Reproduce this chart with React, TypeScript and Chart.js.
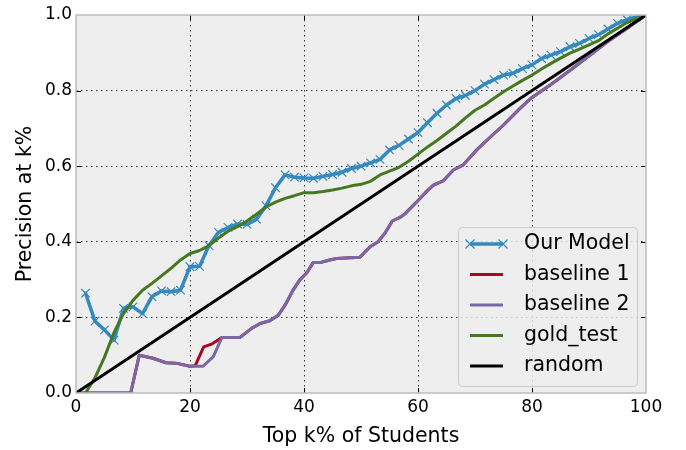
import React, { useEffect, useRef } from "react";
import { Chart, registerables } from "chart.js";

Chart.register(...registerables);

// ---------- data ----------
const kSteps = [
  1.67, 3.33, 5, 6.67, 8.33, 10, 11.67, 13.33, 15, 16.67,
  18.33, 20, 21.67, 23.33, 25, 26.67, 28.33, 30, 31.67, 33.33,
  35, 36.67, 38.33, 40, 41.67, 43.33, 45, 46.67, 48.33, 50,
  51.67, 53.33, 55, 56.67, 58.33, 60, 61.67, 63.33, 65, 66.67,
  68.33, 70, 71.67, 73.33, 75, 76.67, 78.33, 80, 81.67, 83.33,
  85, 86.67, 88.33, 90, 91.67, 93.33, 95, 96.67, 98.33, 100,
];

const ourModel = [
  0.264, 0.19, 0.167, 0.14, 0.224, 0.228, 0.21, 0.255, 0.27, 0.268,
  0.272, 0.334, 0.335, 0.39, 0.425, 0.438, 0.447, 0.446, 0.46, 0.495,
  0.543, 0.577, 0.571, 0.569, 0.568, 0.573, 0.578, 0.584, 0.594, 0.6,
  0.609, 0.618, 0.643, 0.655, 0.672, 0.689, 0.715, 0.74, 0.762, 0.779,
  0.787, 0.8, 0.817, 0.829, 0.841, 0.846, 0.858, 0.868, 0.885, 0.894,
  0.903, 0.916, 0.925, 0.938, 0.948, 0.963, 0.978, 0.988, 0.995, 1.0,
];

const goldTest = [
  0, 0.04, 0.095, 0.16, 0.21, 0.245, 0.272, 0.29, 0.31, 0.33,
  0.352, 0.369, 0.377, 0.39, 0.41, 0.428, 0.44, 0.455, 0.473, 0.492,
  0.505, 0.515, 0.522, 0.53, 0.53, 0.533, 0.537, 0.542, 0.548, 0.552,
  0.56, 0.577, 0.587, 0.597, 0.613, 0.632, 0.651, 0.668, 0.687, 0.706,
  0.728, 0.748, 0.762, 0.78, 0.797, 0.812, 0.827, 0.841, 0.857, 0.872,
  0.886, 0.899, 0.91, 0.921, 0.932, 0.95, 0.965, 0.98, 0.99, 1.0,
];

const baseline2K = [
  0, 9.6, 11.1, 13.5, 15.8, 17.5, 20, 22.3, 24.1, 25.6,
  28.8, 30.8, 32.3, 34, 35.5, 36.7, 38, 39.3, 40.5, 41.6,
  42.8, 44.5, 45.7, 49.8, 51.6, 53, 54.3, 55.5, 57, 57.7,
  59.8, 61.3, 62.7, 64.4, 66.2, 67.9, 70.3, 72.6, 75, 77.9,
  80, 83.2, 86.7, 90.2, 93.3, 96.7, 100,
];
const baseline2 = [
  0, 0, 0.1, 0.092, 0.08, 0.079, 0.071, 0.071, 0.096, 0.147,
  0.147, 0.171, 0.184, 0.191, 0.206, 0.233, 0.27, 0.3, 0.318, 0.345,
  0.345, 0.352, 0.356, 0.359, 0.387, 0.4, 0.425, 0.455, 0.466, 0.474,
  0.506, 0.53, 0.55, 0.561, 0.59, 0.603, 0.643, 0.676, 0.709, 0.753,
  0.782, 0.815, 0.854, 0.894, 0.93, 0.965, 1.0,
];

const baseline1K = [
  0, 9.6, 11.1, 13.5, 15.8, 17.5, 20, 20.9, 22.4, 23.9,
  25.6, 28.8, 30.8, 32.3, 34, 35.5, 36.7, 38, 39.3, 40.5,
  41.6, 42.8, 44.5, 45.7, 49.8, 51.6, 53, 54.3, 55.5, 57,
  57.7, 59.8, 61.3, 62.7, 64.4, 66.2, 67.9, 70.3, 72.6, 75,
  77.9, 80, 83.2, 86.7, 90.2, 93.3, 96.7, 100,
];
const baseline1 = [
  0, 0, 0.1, 0.092, 0.08, 0.079, 0.071, 0.072, 0.122, 0.13,
  0.147, 0.147, 0.171, 0.184, 0.191, 0.206, 0.233, 0.27, 0.3, 0.318,
  0.345, 0.345, 0.352, 0.356, 0.359, 0.387, 0.4, 0.425, 0.455, 0.466,
  0.474, 0.506, 0.53, 0.55, 0.561, 0.59, 0.603, 0.643, 0.676, 0.709,
  0.753, 0.782, 0.815, 0.854, 0.894, 0.93, 0.965, 1.0,
];

const randomK = [0, 100];
const randomV = [0, 1];

const xTicks = [0, 20, 40, 60, 80, 100];
const yTicks = [0, 0.2, 0.4, 0.6, 0.8, 1.0];

const seriesNames = ["Our Model", "baseline 1", "baseline 2", "gold_test", "random"];
const seriesColors = ["#348ABD", "#A60628", "#7A68A6", "#467821", "#000000"];

const FONT = '"DejaVu Sans", "Liberation Sans", sans-serif';

const pts = (xs: number[], ys: number[]) => xs.map((x, i) => ({ x, y: ys[i] }));

export default function App() {
  const ref = useRef<HTMLCanvasElement | null>(null);

  useEffect(() => {
    document.body.style.margin = "0";
    const canvas = ref.current;
    if (!canvas) return;

    const bgPlugin = {
      id: "bg",
      beforeDraw(chart: any) {
        const { ctx, chartArea: a } = chart;
        ctx.save();
        ctx.fillStyle = "#eeeeee";
        ctx.fillRect(a.left, a.top, a.right - a.left, a.bottom - a.top);
        ctx.restore();
      },
    };

    const framePlugin = {
      id: "frame",
      afterDraw(chart: any) {
        const { ctx, chartArea: a, scales } = chart;
        ctx.save();
        // tick marks inward
        ctx.strokeStyle = "#000";
        ctx.lineWidth = 1;
        const L = 5;
        xTicks.forEach((t) => {
          if (t === 0 || t === 100) return;
          const x = Math.round(scales.x.getPixelForValue(t)) + 0.5;
          ctx.beginPath();
          ctx.moveTo(x, a.bottom);
          ctx.lineTo(x, a.bottom - L);
          ctx.moveTo(x, a.top);
          ctx.lineTo(x, a.top + L);
          ctx.stroke();
        });
        yTicks.forEach((t) => {
          if (t === 0 || t === 1) return;
          const y = Math.round(scales.y.getPixelForValue(t)) + 0.5;
          ctx.beginPath();
          ctx.moveTo(a.left, y);
          ctx.lineTo(a.left + L, y);
          ctx.moveTo(a.right, y);
          ctx.lineTo(a.right - L, y);
          ctx.stroke();
        });
        // spines
        ctx.strokeStyle = "#bcbcbc";
        ctx.lineWidth = 1.5;
        ctx.strokeRect(a.left, a.top, a.right - a.left, a.bottom - a.top);

        // legend
        const bx = a.right - 188;
        const by = a.bottom - 166;
        const bw = 179;
        const bh = 159;
        ctx.beginPath();
        ctx.roundRect(bx + 0.5, by + 0.5, bw, bh, 4);
        ctx.fillStyle = "rgba(238,238,238,0.8)";
        ctx.fill();
        ctx.strokeStyle = "#cccccc";
        ctx.lineWidth = 1;
        ctx.stroke();

        const lx0 = bx + 12;
        const lx1 = bx + 45;
        const tx = bx + 66;
        ctx.font = `20.5px ${FONT}`;
        ctx.textBaseline = "middle";
        ctx.textAlign = "left";
        seriesNames.forEach((name, i) => {
          const y = by + 17 + i * 30.5;
          ctx.strokeStyle = seriesColors[i];
          ctx.lineWidth = i === 0 ? 3.5 : 3;
          ctx.beginPath();
          ctx.moveTo(lx0, y);
          ctx.lineTo(lx1, y);
          ctx.stroke();
          if (i === 0) {
            const r = 4.5;
            ctx.lineWidth = 1.2;
            [lx0, lx1].forEach((cx) => {
              ctx.beginPath();
              ctx.moveTo(cx - r, y - r);
              ctx.lineTo(cx + r, y + r);
              ctx.moveTo(cx - r, y + r);
              ctx.lineTo(cx + r, y - r);
              ctx.stroke();
            });
          }
          ctx.fillStyle = "#000";
          ctx.fillText(name, tx, y);
        });
        ctx.restore();
      },
    };

    const gridColor = (edgeA: number, edgeB: number) => (c: any) => {
      const v = c.tick ? c.tick.value : null;
      if (v === null) return "transparent";
      if (Math.abs(v - edgeA) < 1e-6 || Math.abs(v - edgeB) < 1e-6) return "transparent";
      return "rgba(0,0,0,0.75)";
    };

    const chart = new Chart(canvas, {
      type: "line",
      data: {
        datasets: [
          {
            label: seriesNames[0],
            data: pts(kSteps, ourModel),
            borderColor: seriesColors[0],
            backgroundColor: seriesColors[0],
            borderWidth: 3.5,
            pointStyle: "crossRot",
            pointRadius: 6,
            pointBorderWidth: 1.2,
            pointBorderColor: seriesColors[0],
            order: 5,
          },
          {
            label: seriesNames[1],
            data: pts(baseline1K, baseline1),
            borderColor: seriesColors[1],
            borderWidth: 3,
            pointRadius: 0,
            order: 4,
          },
          {
            label: seriesNames[2],
            data: pts(baseline2K, baseline2),
            borderColor: seriesColors[2],
            borderWidth: 3,
            pointRadius: 0,
            order: 3,
          },
          {
            label: seriesNames[3],
            data: pts(kSteps, goldTest),
            borderColor: seriesColors[3],
            borderWidth: 3,
            pointRadius: 0,
            order: 2,
          },
          {
            label: seriesNames[4],
            data: pts(randomK, randomV),
            borderColor: seriesColors[4],
            borderWidth: 3,
            pointRadius: 0,
            order: 1,
          },
        ],
      },
      options: {
        animation: false,
        responsive: false,
        maintainAspectRatio: false,
        layout: { padding: { top: 15, right: 40, left: 0, bottom: 0 } },
        elements: { line: { tension: 0, borderJoinStyle: "round", borderCapStyle: "round" } },
        plugins: { legend: { display: false }, tooltip: { enabled: false } },
        scales: {
          x: {
            type: "linear",
            min: 0,
            max: 100,
            afterFit: (s: any) => {
              s.height = 57;
            },
            afterBuildTicks: (s: any) => {
              s.ticks = xTicks.map((v) => ({ value: v }));
            },
            ticks: {
              color: "#000",
              font: { family: FONT, size: 17 },
              padding: 4,
              maxRotation: 0,
              autoSkip: false,
              callback: (v: any) => String(v),
            },
            grid: { drawTicks: false, color: gridColor(0, 100), lineWidth: 1 },
            border: { display: false, dash: [1.5, 3.5] },
            title: {
              display: true,
              text: "Top k% of Students",
              color: "#000",
              font: { family: FONT, size: 20.5 },
              padding: { top: 0, bottom: 1 },
            },
          },
          y: {
            type: "linear",
            min: 0,
            max: 1,
            afterFit: (s: any) => {
              s.width = 76;
            },
            afterBuildTicks: (s: any) => {
              s.ticks = yTicks.map((v) => ({ value: v }));
            },
            ticks: {
              color: "#000",
              font: { family: FONT, size: 17 },
              padding: 4,
              autoSkip: false,
              callback: (v: any) => Number(v).toFixed(1),
            },
            grid: { drawTicks: false, color: gridColor(0, 1), lineWidth: 1 },
            border: { display: false, dash: [1.5, 3.5] },
            title: {
              display: true,
              text: "Precision at k%",
              color: "#000",
              font: { family: FONT, size: 20.5 },
              padding: { top: 13, bottom: 0 },
            },
          },
        },
      },
      plugins: [bgPlugin, framePlugin],
    } as any);

    return () => chart.destroy();
  }, []);

  return (
    <div style={{ width: 686, height: 450 }}>
      <canvas ref={ref} width={686} height={450} style={{ display: "block" }} />
    </div>
  );
}
